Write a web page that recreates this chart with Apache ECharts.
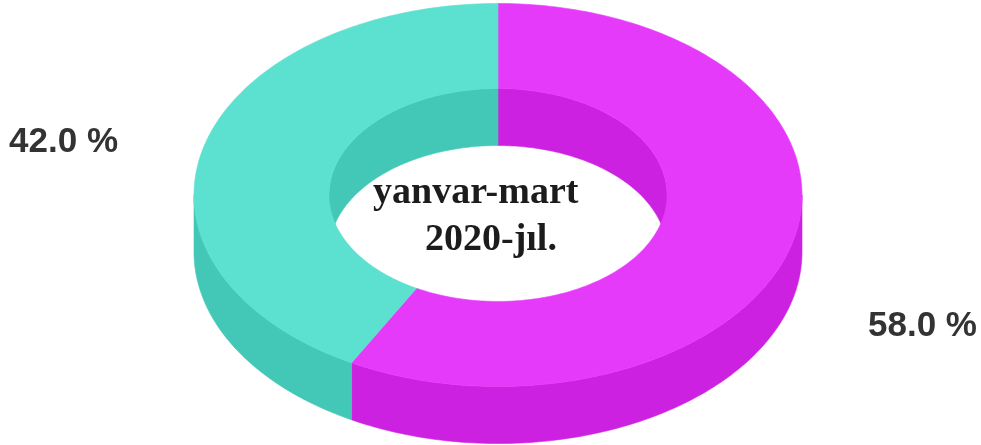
<!DOCTYPE html>
<html>
<head>
<meta charset="utf-8">
<script src="https://cdn.jsdelivr.net/npm/echarts@6/dist/echarts.min.js"></script>
<style>
  html, body { margin: 0; padding: 0; background: #fff; }
  #chart { width: 981px; height: 445px; }
</style>
</head>
<body>
<div id="chart"></div>
<script>
// data
const categories = ['segment 1', 'segment 2'];
const shareValues = [58.0, 42.0];
const sliceColors = ['#E63AFA', '#5CE0CF'];
const centerLines = ['yanvar-mart', '2020-jıl.'];

// layout of the tilted ring (pixels)
const CX = 498, CY = 195;
const RX_OUT = 304, RX_IN = 169;
const TILT = 0.63; // ry / rx
const RY_OUT = RX_OUT * TILT, RY_IN = RX_IN * TILT;
const DEPTH = 57;

const total = shareValues.reduce((a, b) => a + b, 0);
const starts = [];
let acc = 0;
shareValues.forEach((v) => { starts.push(acc); acc += v; });

// darker shade for the side walls
function shade(hex) {
  const n = parseInt(hex.slice(1), 16);
  const c = [(n >> 16) & 255, (n >> 8) & 255, n & 255].map((x) => Math.max(0, Math.round(x - 25.5)));
  return 'rgb(' + c.join(',') + ')';
}

// points along an ellipse arc, angle clockwise from 12 o'clock
function arc(rx, ry, a, b, dz) {
  const steps = Math.max(2, Math.ceil(Math.abs(b - a) / (Math.PI / 180)));
  const pts = [];
  for (let k = 0; k <= steps; k++) {
    const t = a + (b - a) * k / steps;
    pts.push([CX + rx * Math.sin(t), CY - ry * Math.cos(t) + dz]);
  }
  return pts;
}

function wall(rx, ry, a, b, color) {
  const pts = arc(rx, ry, a, b, 0).concat(arc(rx, ry, b, a, DEPTH));
  return { type: 'polygon', z2: 1, shape: { points: pts }, style: { fill: color, stroke: color, lineWidth: 0.6 } };
}

function renderItem(params, api) {
  const i = params.dataIndex;
  const v = api.value(0);
  const a0 = starts[i] / total * 2 * Math.PI;
  const a1 = (starts[i] + v) / total * 2 * Math.PI;
  const top = sliceColors[i];
  const side = shade(top);
  const children = [];

  // inner wall is only seen on the far half
  [[-Math.PI / 2, Math.PI / 2], [1.5 * Math.PI, 2.5 * Math.PI]].forEach(([lo, hi]) => {
    const s = Math.max(a0, lo), e = Math.min(a1, hi);
    if (e > s) children.push(wall(RX_IN, RY_IN, s, e, side));
  });
  // outer wall only on the near half
  const so = Math.max(a0, Math.PI / 2), eo = Math.min(a1, 1.5 * Math.PI);
  if (eo > so) children.push(wall(RX_OUT, RY_OUT, so, eo, side));

  // top face
  const pts = arc(RX_OUT, RY_OUT, a0, a1, 0).concat(arc(RX_IN, RY_IN, a1, a0, 0));
  children.push({ type: 'polygon', z2: 2, shape: { points: pts }, style: { fill: top, stroke: top, lineWidth: 0.6 } });

  // percent label
  const mid = (a0 + a1) / 2;
  const left = Math.sin(mid) < 0;
  children.push({
    type: 'text', z2: 3,
    x: left ? CX - RX_OUT - 76 : CX + RX_OUT + 66,
    y: left ? CY - 53 : CY + 131,
    style: {
      text: (v / total * 100).toFixed(1) + ' %',
      font: 'bold 35px "Liberation Sans", Arial, sans-serif',
      fill: '#333333',
      align: left ? 'right' : 'left',
      verticalAlign: 'middle'
    }
  });
  return { type: 'group', children };
}

const chart = echarts.init(document.getElementById('chart'));
chart.setOption({
  backgroundColor: '#ffffff',
  animation: false,
  graphic: [
    { type: 'text', x: 373, y: 193, style: { text: centerLines[0], font: 'bold 38px "Liberation Serif", "Times New Roman", serif', fill: '#1c1c1c', verticalAlign: 'middle' } },
    { type: 'text', x: 425, y: 240, style: { text: centerLines[1], font: 'bold 38px "Liberation Serif", "Times New Roman", serif', fill: '#1c1c1c', verticalAlign: 'middle' } }
  ],
  series: [{
    type: 'custom',
    coordinateSystem: 'none',
    renderItem: renderItem,
    data: shareValues.map((v, i) => ({ name: categories[i], value: [v] }))
  }]
});
</script>
</body>
</html>
